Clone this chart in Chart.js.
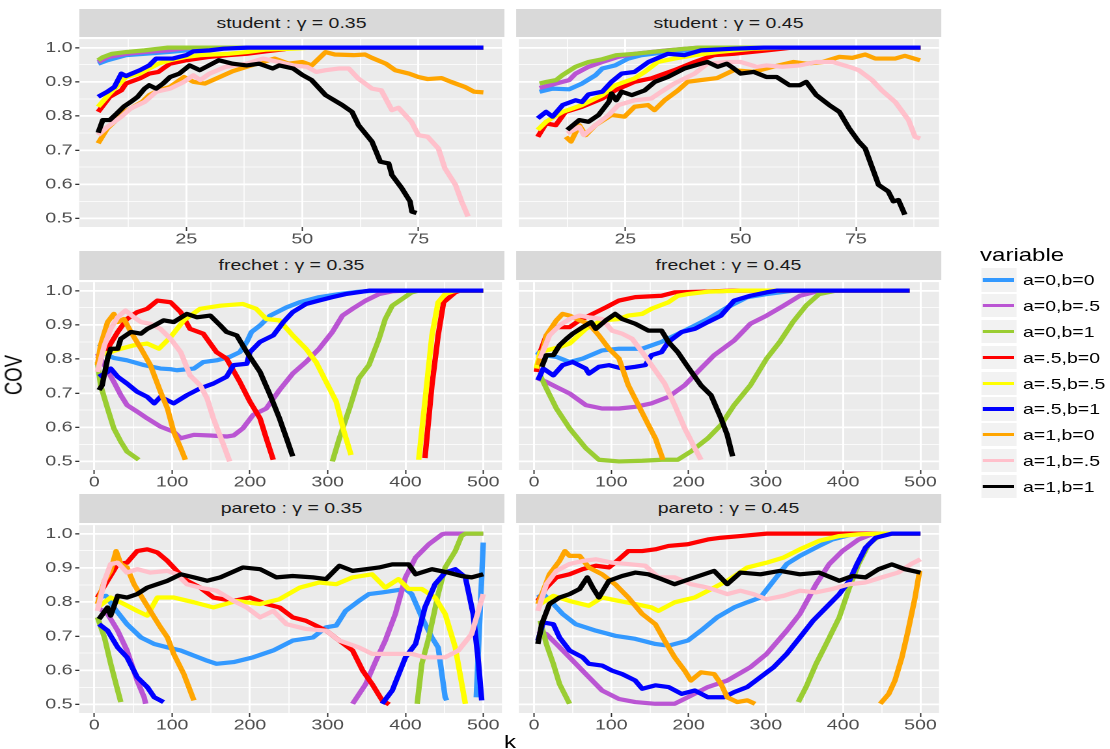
<!doctype html>
<html>
<head>
<meta charset="utf-8" />
<title>COV by k</title>
<script src="https://cdn.jsdelivr.net/npm/chart.js@4.4.0/dist/chart.umd.min.js"></script>
<style>
body { margin:0; background:#fff; overflow:hidden; font-family:"Liberation Sans", Arial, sans-serif; }
#wrap { position:absolute; left:0; top:0; height:749px; transform-origin:0 0; }
.abs { position:absolute; }
.strip { background:#D9D9D9; color:#1A1A1A; font-size:15px; text-align:center; white-space:nowrap; }
.title { color:#000; font-size:18.5px; line-height:18.5px; white-space:nowrap; }
.key { background:#F2F2F2; }
.keyline { position:absolute; height:3.4px; }
.lab { color:#000; font-size:15px; white-space:nowrap; }
</style>
</head>

<body>
<div id="wrap"></div>
<script>
// horizontal stretch of the reference picture
var S = 1.3;

var seriesNames = ['a=0,b=0', 'a=0,b=.5', 'a=0,b=1', 'a=.5,b=0', 'a=.5,b=.5', 'a=.5,b=1', 'a=1,b=0', 'a=1,b=.5', 'a=1,b=1'];
var seriesColors = ['#3399FF', '#BA55D3', '#9ACD32', '#FF0000', '#FFFF00', '#0000FF', '#FFA500', '#FFC0CB', '#000000'];
var panelTitles = ['student : \u03b3 = 0.35', 'student : \u03b3 = 0.45', 'frechet : \u03b3 = 0.35', 'frechet : \u03b3 = 0.45', 'pareto : \u03b3 = 0.35', 'pareto : \u03b3 = 0.45'];

var studentTicks = [25, 50, 75];
var studentLabels = ['25', '50', '75'];
var studentMinor = [12.5, 37.5, 62.5, 87.5];
var studentRange = [1.9, 93];
var heavyTicks = [0, 100, 200, 300, 400, 500];
var heavyLabels = ['0', '100', '200', '300', '400', '500'];
var heavyMinor = [50, 150, 250, 350, 450];
var heavyRange = [-19.6, 524];
var covTicks = [0.5, 0.6, 0.7, 0.8, 0.9, 1.0];
var covLabels = ['0.5', '0.6', '0.7', '0.8', '0.9', '1.0'];
var covMinor = [0.55, 0.65, 0.75, 0.85, 0.95];
var covRange = [0.475, 1.025];

// [k, COV] per series, in seriesNames order; null = gap
var student035 = [
  [[6,0.953],[8,0.963],[12,0.978],[16,0.982],[21,0.987],[25,0.992],[29,0.997],[32,1],[89,1]],
  [[6,0.958],[8,0.972],[12,0.982],[16,0.987],[21,0.992],[24,0.997],[26,1],[89,1]],
  [[6,0.963],[7,0.972],[9,0.982],[12,0.987],[16,0.992],[19,0.997],[21,1],[89,1]],
  [[6,0.812],[8.5,0.856],[11,0.875],[12,0.895],[15,0.91],[17,0.924],[19,0.929],[20,0.939],[21.5,0.953],[25,0.963],[30,0.973],[34,0.978],[38,0.982],[42,0.989],[46,0.995],[48,1],[89,1]],
  [[6,0.827],[8.5,0.866],[11,0.9],[12,0.914],[15,0.924],[17,0.939],[19,0.953],[21.5,0.963],[25,0.973],[28,0.978],[34,0.982],[38,0.987],[42,0.994],[48,0.997],[52,1],[89,1]],
  [[6,0.856],[8,0.871],[9.5,0.885],[11,0.924],[12,0.917],[15,0.934],[17,0.948],[18.5,0.968],[22,0.968],[25,0.978],[26.5,0.989],[30,0.992],[33,0.997],[38,1],[89,1]],
  [[6,0.72],[8,0.764],[9.5,0.783],[11,0.807],[13,0.822],[15.5,0.841],[17,0.861],[19,0.875],[21.5,0.885],[24.5,0.914],[26.5,0.9],[29,0.895],[31.5,0.91],[35,0.931],[38,0.944],[41.5,0.958],[44,0.968],[47,0.953],[50,0.958],[52,0.948],[55,0.987],[57,0.98],[61,0.978],[63.5,0.98],[65,0.97],[68,0.953],[70,0.934],[73,0.924],[75,0.914],[77,0.908],[80,0.911],[82,0.9],[85,0.885],[87,0.871],[89,0.869]],
  [[6,0.744],[8,0.768],[11,0.798],[13,0.822],[16,0.841],[18.5,0.871],[21.5,0.88],[24.5,0.9],[26.5,0.919],[28,0.905],[30,0.924],[33.5,0.944],[38,0.953],[41.5,0.968],[45,0.958],[48,0.948],[51,0.944],[53,0.929],[55,0.934],[58,0.939],[60,0.939],[62,0.91],[65,0.88],[67,0.875],[69.3,0.817],[70.7,0.824],[73.5,0.783],[75,0.744],[77,0.739],[79.3,0.705],[80.7,0.647],[83,0.598],[84.3,0.55],[85.7,0.506]],
  [[6,0.751],[7,0.788],[8.5,0.788],[10,0.807],[11.5,0.827],[13,0.841],[14.5,0.856],[16,0.88],[17,0.89],[18.5,0.88],[20,0.895],[21.5,0.914],[23.5,0.924],[25.7,0.948],[27.9,0.934],[32,0.963],[35,0.953],[38,0.948],[40.7,0.953],[43.6,0.939],[45,0.948],[48,0.939],[50,0.92],[52,0.905],[55,0.861],[58.6,0.832],[60.7,0.812],[62.1,0.773],[65,0.725],[66.8,0.666],[68.6,0.661],[69.3,0.627],[71.4,0.589],[73.2,0.55],[73.6,0.52],[74.6,0.516]]
];

var student045 = [
  [[6.4,0.871],[9.2,0.88],[12.8,0.878],[15.6,0.895],[18.5,0.919],[20,0.939],[22.8,0.948],[25.6,0.968],[28.5,0.978],[34,0.987],[38.5,0.992],[42.8,0.997],[48.5,1],[89,1]],
  [[6.4,0.882],[10,0.895],[12.8,0.905],[14.2,0.924],[17,0.944],[20,0.958],[23.5,0.973],[27,0.982],[34,0.992],[41,1],[89,1]],
  [[6.4,0.895],[8,0.9],[10,0.905],[11.4,0.92],[14.2,0.944],[17,0.958],[20,0.966],[23,0.978],[27,0.982],[30.6,0.987],[38,0.997],[41,1],[89,1]],
  [[6,0.739],[7.8,0.778],[9.9,0.773],[12,0.812],[15.6,0.827],[20,0.851],[22.8,0.875],[27,0.9],[30.6,0.91],[35.6,0.934],[40,0.958],[44.2,0.978],[48.5,0.982],[55.6,0.992],[61,1],[89,1]],
  [[6,0.759],[7.8,0.783],[11.4,0.812],[15.6,0.832],[20,0.861],[22.8,0.89],[27,0.91],[29.2,0.929],[32,0.958],[35.6,0.968],[40,0.978],[45,0.987],[52.8,0.997],[59,1],[89,1]],
  [[6,0.793],[7.8,0.812],[9.2,0.798],[11.4,0.832],[14.2,0.846],[15.6,0.841],[17,0.863],[20,0.871],[22,0.9],[24.2,0.924],[27,0.929],[30,0.958],[34.2,0.982],[37.8,0.978],[41.4,0.992],[48.5,0.997],[55,1],[89,1]],
  [[12.1,0.739],[13.2,0.725],[15,0.773],[16.4,0.744],[18.5,0.773],[22,0.803],[24.8,0.798],[27,0.827],[29.9,0.832],[31.3,0.817],[33.5,0.846],[36.4,0.875],[38.5,0.9],[41.4,0.905],[44.9,0.911],[48.5,0.934],[52.8,0.929],[57,0.944],[61.4,0.958],[64.2,0.953],[67.8,0.958],[71.4,0.973],[74.2,0.97],[77,0.98],[79.2,0.968],[83.5,0.968],[85.6,0.976],[88.9,0.963]],
  [[12.4,0.749],[15,0.768],[16,0.744],[18.5,0.773],[21.4,0.803],[23.5,0.832],[27,0.846],[30.6,0.851],[32.8,0.871],[35.6,0.895],[40,0.924],[42.8,0.953],[47,0.958],[50,0.958],[53.5,0.944],[55.6,0.948],[59,0.944],[62.8,0.948],[66.4,0.958],[70,0.958],[73.5,0.944],[75.6,0.934],[78.5,0.905],[80.6,0.875],[83.5,0.841],[86.4,0.788],[87.8,0.739],[88.9,0.734]],
  [[12.4,0.759],[15,0.788],[17,0.783],[19.2,0.803],[21.4,0.841],[22,0.866],[23,0.846],[24.2,0.871],[26.4,0.861],[29.2,0.875],[31.4,0.9],[34.2,0.914],[37.8,0.939],[41.4,0.953],[42.8,0.958],[45,0.944],[47,0.953],[48.5,0.939],[50,0.924],[52.8,0.929],[55.6,0.914],[57.8,0.914],[60.6,0.89],[62.8,0.89],[64.2,0.9],[66.4,0.861],[69.2,0.832],[71.4,0.812],[73.5,0.764],[75.6,0.725],[77,0.705],[79.9,0.598],[82,0.579],[83.1,0.55],[84.2,0.554],[85.6,0.511]]
];

var frechet035 = [
  [[6,0.835],[11,0.845],[17,0.811],[25,0.803],[42,0.796],[64,0.782],[85,0.772],[98,0.77],[106,0.767],[128,0.772],[140,0.791],[157,0.796],[174,0.806],[187,0.82],[196,0.85],[202,0.879],[213,0.898],[226,0.927],[247,0.951],[264,0.966],[289,0.981],[315,0.99],[340,0.997],[362,1],[500,1]],
  [[4,0.816],[13,0.782],[25,0.733],[34,0.694],[42,0.665],[55,0.646],[68,0.626],[85,0.602],[102,0.587],[111,0.568],[128,0.578],[149,0.576],[170,0.573],[179,0.576],[191,0.597],[204,0.636],[221,0.655],[238,0.709],[255,0.757],[272,0.791],[289,0.83],[306,0.879],[319,0.927],[332,0.947],[349,0.971],[366,0.99],[383,0.998],[400,1],[500,1]],
  [[4,0.791],[8,0.723],[17,0.655],[25,0.597],[34,0.558],[42,0.529],[57,0.505],[180,null],[306,0.5],[315,0.568],[328,0.655],[340,0.743],[353,0.782],[366,0.859],[374,0.917],[383,0.956],[396,0.976],[408,0.995],[417,1],[500,1]],
  [[4,0.801],[17,0.83],[30,0.879],[42,0.917],[55,0.937],[68,0.947],[81,0.971],[98,0.966],[111,0.937],[123,0.888],[140,0.874],[157,0.82],[170,0.801],[187,0.733],[200,0.675],[213,0.626],[221,0.568],[230,0.505],[330,null],[425,0.51],[434,0.723],[442,0.869],[449,0.966],[464,0.995],[470,1],[500,1]],
  [[4,0.811],[21,0.82],[34,0.83],[51,0.84],[68,0.845],[83,0.83],[98,0.864],[115,0.913],[136,0.947],[162,0.956],[191,0.961],[208,0.947],[221,0.917],[238,0.913],[255,0.869],[272,0.83],[285,0.791],[298,0.733],[311,0.675],[321,0.587],[330,0.519],[370,null],[417,0.505],[425,0.675],[434,0.869],[442,0.966],[451,0.99],[460,0.997],[466,1],[500,1]],
  [[6,0.748],[17,0.762],[21,0.772],[30,0.748],[42,0.728],[55,0.704],[68,0.689],[77,0.67],[85,0.689],[102,0.67],[119,0.694],[136,0.714],[153,0.728],[170,0.748],[179,0.782],[196,0.786],[200,0.82],[213,0.85],[230,0.869],[243,0.908],[255,0.937],[272,0.961],[289,0.971],[306,0.981],[323,0.99],[353,1],[500,1]],
  [[4,0.782],[8,0.84],[17,0.908],[25,0.932],[30,0.908],[38,0.917],[47,0.879],[60,0.83],[72,0.782],[85,0.704],[94,0.655],[102,0.587],[111,0.539],[117,0.505]],
  [[4,0.762],[13,0.84],[21,0.888],[30,0.922],[40,0.942],[51,0.922],[60,0.908],[72,0.903],[85,0.888],[98,0.859],[111,0.82],[123,0.752],[136,0.723],[145,0.684],[153,0.626],[166,0.549],[174,0.5]],
  [[6,0.709],[10,0.723],[17,0.801],[21,0.83],[30,0.83],[34,0.859],[47,0.879],[60,0.874],[68,0.888],[77,0.898],[89,0.913],[102,0.908],[119,0.932],[132,0.922],[149,0.927],[162,0.898],[170,0.879],[183,0.869],[196,0.82],[213,0.762],[226,0.694],[238,0.626],[247,0.568],[255,0.515]]
];

var frechet045 = [
  [[3,0.82],[12,0.811],[29,0.806],[46,0.791],[63,0.801],[88,0.825],[110,0.83],[140,0.83],[165,0.85],[195,0.883],[225,0.917],[250,0.951],[276,0.981],[301,0.99],[335,1],[486,1]],
  [[5,0.743],[16,0.733],[29,0.718],[46,0.699],[67,0.665],[88,0.655],[110,0.655],[131,0.66],[152,0.67],[174,0.689],[195,0.723],[216,0.772],[233,0.811],[259,0.854],[280,0.903],[301,0.927],[323,0.956],[344,0.985],[365,0.997],[386,1],[486,1]],
  [[8,0.752],[16,0.714],[29,0.655],[46,0.597],[67,0.539],[84,0.505],[110,0.5],[140,0.502],[165,0.505],[186,0.505],[203,0.529],[225,0.568],[242,0.607],[259,0.665],[280,0.723],[301,0.801],[318,0.85],[335,0.908],[352,0.956],[369,0.99],[391,1],[486,1]],
  [[3,0.762],[8,0.82],[16,0.869],[29,0.893],[46,0.893],[59,0.913],[76,0.932],[93,0.951],[110,0.971],[131,0.981],[165,0.985],[182,0.995],[216,0.997],[259,1],[486,1]],
  [[3,0.772],[8,0.82],[33,0.835],[46,0.845],[67,0.888],[88,0.913],[110,0.917],[122,0.927],[140,0.932],[152,0.947],[174,0.966],[186,0.985],[199,0.99],[225,0.997],[267,1],[486,1]],
  [[5,0.738],[12,0.772],[25,0.752],[37,0.782],[50,0.791],[67,0.772],[71,0.757],[84,0.777],[97,0.782],[114,0.772],[131,0.777],[144,0.782],[152,0.811],[165,0.82],[174,0.85],[191,0.879],[208,0.888],[225,0.908],[242,0.927],[259,0.971],[280,0.985],[301,0.995],[314,1],[486,1]],
  [[5,0.782],[12,0.83],[16,0.869],[29,0.913],[37,0.932],[46,0.927],[59,0.913],[71,0.903],[84,0.869],[97,0.83],[110,0.801],[122,0.723],[135,0.665],[148,0.607],[157,0.568],[167,0.505]],
  [[8,0.801],[20,0.869],[33,0.898],[46,0.917],[59,0.927],[71,0.922],[88,0.917],[101,0.883],[114,0.874],[127,0.859],[140,0.82],[152,0.782],[169,0.728],[182,0.665],[195,0.597],[208,0.539],[216,0.505]],
  [[10,0.777],[16,0.811],[25,0.811],[33,0.84],[42,0.859],[50,0.874],[63,0.893],[74,0.908],[80,0.888],[93,0.913],[105,0.932],[114,0.917],[131,0.903],[148,0.883],[165,0.883],[174,0.85],[186,0.82],[199,0.777],[216,0.723],[229,0.694],[242,0.626],[250,0.578],[257,0.515]]
];

var pareto035 = [
  [[4,0.813],[15,0.818],[25,0.784],[42,0.735],[60,0.696],[77,0.677],[94,0.667],[111,0.658],[128,0.643],[145,0.628],[157,0.619],[179,0.624],[204,0.638],[230,0.658],[255,0.687],[281,0.696],[298,0.726],[311,0.731],[323,0.774],[340,0.803],[353,0.823],[370,0.828],[400,0.838],[408,0.823],[421,0.755],[434,0.696],[442,0.667],[451,0.521],[453,0.512],[470,null],[491,0.521],[500,0.974]],
  [[4,0.784],[17,0.765],[30,0.716],[42,0.658],[55,0.57],[64,0.521],[66,0.502],[200,null],[332,0.502],[349,0.56],[362,0.628],[374,0.687],[387,0.765],[400,0.872],[413,0.93],[430,0.969],[447,0.998],[451,1],[500,1]],
  [[4,0.755],[13,0.696],[21,0.619],[30,0.541],[34,0.507],[200,null],[415,0.502],[421,0.619],[430,0.696],[442,0.823],[451,0.901],[464,0.949],[472,0.993],[477,1],[500,1]],
  [[4,0.813],[17,0.862],[30,0.911],[42,0.915],[55,0.949],[68,0.954],[81,0.945],[94,0.92],[106,0.891],[119,0.862],[136,0.842],[153,0.813],[179,0.803],[200,0.813],[221,0.794],[238,0.784],[255,0.755],[272,0.745],[298,0.716],[315,0.687],[332,0.658],[345,0.599],[357,0.56],[370,0.512],[379,0.5]],
  [[4,0.784],[21,0.813],[38,0.794],[55,0.774],[68,0.76],[81,0.813],[102,0.813],[128,0.799],[153,0.784],[183,0.803],[213,0.794],[238,0.808],[264,0.842],[289,0.857],[311,0.852],[332,0.872],[357,0.881],[374,0.842],[391,0.867],[404,0.838],[421,0.838],[438,0.813],[451,0.765],[464,0.667],[477,0.502]],
  [[6,0.735],[17,0.716],[30,0.667],[42,0.638],[55,0.58],[68,0.551],[77,0.521],[89,0.507],[200,null],[370,0.502],[383,0.541],[400,0.638],[413,0.677],[425,0.784],[438,0.852],[451,0.886],[464,0.896],[477,0.872],[487,0.765],[494,0.619],[498,0.512]],
  [[4,0.794],[13,0.862],[21,0.891],[28,0.949],[34,0.911],[42,0.901],[51,0.852],[64,0.803],[77,0.755],[85,0.726],[94,0.696],[102,0.648],[115,0.589],[128,0.512]],
  [[4,0.774],[13,0.862],[21,0.911],[30,0.915],[42,0.886],[55,0.896],[72,0.886],[94,0.891],[106,0.881],[119,0.852],[136,0.842],[157,0.833],[179,0.803],[196,0.784],[213,0.755],[230,0.774],[247,0.735],[272,0.721],[298,0.716],[315,0.687],[340,0.667],[357,0.648],[383,0.648],[408,0.648],[425,0.638],[451,0.638],[468,0.658],[485,0.706],[500,0.823]],
  [[6,0.75],[17,0.784],[21,0.76],[30,0.818],[42,0.813],[55,0.823],[68,0.842],[81,0.852],[94,0.862],[111,0.881],[128,0.872],[145,0.862],[162,0.872],[191,0.901],[213,0.896],[234,0.872],[255,0.876],[281,0.872],[298,0.867],[315,0.906],[332,0.891],[349,0.896],[366,0.901],[383,0.91],[404,0.91],[413,0.881],[434,0.896],[455,0.886],[472,0.876],[485,0.872],[500,0.881]]
];

var pareto045 = [
  [[5,0.813],[12,0.823],[25,0.794],[37,0.765],[54,0.735],[80,0.716],[105,0.701],[131,0.692],[157,0.677],[174,0.672],[199,0.687],[216,0.716],[237,0.755],[259,0.784],[276,0.799],[293,0.813],[310,0.862],[327,0.911],[344,0.935],[369,0.964],[386,0.983],[412,0.998],[420,1],[500,1]],
  [[5,0.716],[16,0.706],[29,0.677],[46,0.638],[67,0.589],[88,0.541],[110,0.516],[131,0.507],[157,0.502],[182,0.502],[199,0.521],[225,0.551],[250,0.57],[280,0.609],[301,0.648],[327,0.716],[344,0.765],[365,0.852],[382,0.911],[399,0.949],[420,0.983],[437,0.998],[446,1],[500,1]],
  [[8,0.745],[16,0.677],[25,0.619],[33,0.56],[46,0.502],[200,null],[342,0.507],[352,0.551],[365,0.619],[378,0.677],[395,0.755],[408,0.842],[420,0.911],[433,0.969],[450,1],[500,1]],
  [[5,0.803],[16,0.842],[29,0.872],[46,0.881],[63,0.896],[80,0.906],[97,0.901],[110,0.925],[122,0.949],[140,0.949],[157,0.954],[174,0.964],[199,0.969],[225,0.983],[242,0.988],[267,0.993],[301,1],[500,1]],
  [[8,0.794],[25,0.818],[46,0.803],[71,0.789],[88,0.813],[110,0.803],[131,0.794],[152,0.784],[161,0.774],[182,0.799],[208,0.813],[233,0.842],[250,0.862],[276,0.901],[301,0.915],[323,0.93],[344,0.954],[369,0.979],[395,0.993],[420,0.998],[450,1],[500,1]],
  [[5,0.687],[12,0.74],[25,0.735],[33,0.696],[46,0.658],[63,0.638],[71,0.619],[88,0.614],[101,0.599],[114,0.589],[131,0.57],[140,0.546],[157,0.556],[174,0.551],[191,0.531],[208,0.541],[225,0.521],[246,0.521],[259,0.536],[276,0.551],[293,0.58],[310,0.609],[327,0.648],[344,0.696],[361,0.745],[378,0.784],[395,0.823],[408,0.862],[418,0.911],[429,0.959],[442,0.988],[463,1],[500,1]],
  [[5,0.794],[12,0.833],[20,0.881],[33,0.92],[40,0.949],[46,0.935],[59,0.935],[71,0.901],[88,0.881],[105,0.852],[122,0.813],[140,0.765],[157,0.735],[169,0.687],[182,0.638],[195,0.599],[203,0.57],[216,0.594],[233,0.589],[242,0.56],[250,0.521],[263,0.507],[276,0.512],[286,0.502],[370,null],[448,0.502],[459,0.531],[467,0.57],[476,0.638],[484,0.716],[493,0.813],[499,0.891]],
  [[5,0.774],[16,0.852],[29,0.891],[46,0.911],[63,0.92],[80,0.925],[101,0.915],[122,0.911],[144,0.906],[161,0.872],[182,0.872],[203,0.852],[225,0.842],[250,0.823],[267,0.833],[284,0.823],[301,0.808],[323,0.818],[344,0.833],[365,0.828],[386,0.838],[408,0.852],[429,0.857],[450,0.872],[471,0.886],[488,0.911],[500,0.925]],
  [[5,0.677],[10,0.735],[20,0.794],[33,0.813],[46,0.823],[59,0.838],[69,0.872],[76,0.842],[84,0.813],[97,0.862],[114,0.876],[131,0.886],[148,0.881],[165,0.867],[182,0.852],[208,0.872],[233,0.891],[250,0.852],[267,0.886],[293,0.881],[318,0.891],[344,0.881],[369,0.886],[395,0.862],[412,0.876],[429,0.872],[446,0.896],[463,0.91],[480,0.896],[500,0.886]]
];

var panelData = [student035, student045, frechet035, frechet045, pareto035, pareto045];

// layout, in pixels of the reference picture
var colLeft = [79, 516], panelW = 425;
var rowTop = [37.3, 280, 523], panelH = 190, stripH = 28.7, xAxisH = 26;

var wrap = document.getElementById('wrap');
wrap.style.width = (1110 / S) + 'px';
wrap.style.transform = 'scaleX(' + S + ')';

function place(el, x, y, w, h) {
  el.style.left = (x / S) + 'px';
  el.style.top = y + 'px';
  if (w != null) el.style.width = (w / S) + 'px';
  if (h != null) el.style.height = h + 'px';
  wrap.appendChild(el);
  return el;
}

function tickList(major, labels, minor) {
  var list = major.map(function (v, i) { return { value: v, text: labels[i], minor: false }; })
    .concat(minor.map(function (v) { return { value: v, text: '', minor: true }; }));
  list.sort(function (a, b) { return a.value - b.value; });
  return list;
}

var panelBg = {
  id: 'panelBg',
  beforeDraw: function (chart) {
    var a = chart.chartArea, ctx = chart.ctx;
    ctx.save();
    ctx.fillStyle = '#EBEBEB';
    ctx.fillRect(a.left, a.top, a.right - a.left, a.bottom - a.top);
    ctx.restore();
  }
};

var tickFont = { family: '"Liberation Sans", Arial, sans-serif', size: 15, lineHeight: 1 };

function makeAxis(list, range, horizontal, showLabels, fixedSize) {
  return {
    type: 'linear',
    min: range[0],
    max: range[1],
    afterBuildTicks: function (axis) {
      axis.ticks = list.map(function (t) { return { value: t.value, minor: t.minor }; });
    },
    afterFit: function (axis) {
      if (horizontal) axis.height = fixedSize; else axis.width = fixedSize;
      axis.paddingTop = 0; axis.paddingBottom = 0;
      axis.paddingLeft = 0; axis.paddingRight = 0;
    },
    border: { display: false },
    grid: {
      color: '#FFFFFF',
      lineWidth: function (c) { return c.tick && c.tick.minor ? (horizontal ? 0.75 : 0.85) : (horizontal ? 1.5 : 1.7); },
      drawTicks: showLabels,
      tickLength: horizontal ? 4 : 3,
      tickWidth: horizontal ? 1.0 : 1.3,
      tickColor: function (c) { return c.tick && c.tick.minor ? 'rgba(0,0,0,0)' : '#333333'; }
    },
    ticks: {
      display: showLabels,
      autoSkip: false,
      maxRotation: 0,
      padding: horizontal ? 1 : 2,
      color: '#4D4D4D',
      font: tickFont,
      callback: function (v, i) { return list[i] ? list[i].text : ''; }
    }
  };
}

var xStudent = tickList(studentTicks, studentLabels, studentMinor);
var xHeavy = tickList(heavyTicks, heavyLabels, heavyMinor);
var yCov = tickList(covTicks, covLabels, covMinor);

panelData.forEach(function (series, p) {
  var row = Math.floor(p / 2), col = p % 2;
  var strip = document.createElement('div');
  strip.className = 'abs strip';
  strip.textContent = panelTitles[p];
  strip.style.lineHeight = stripH + 'px';
  place(strip, colLeft[col], rowTop[row] - stripH, panelW, stripH);

  var yW = col === 0 ? colLeft[0] : 0;
  var host = document.createElement('div');
  host.className = 'abs';
  place(host, colLeft[col] - yW, rowTop[row], panelW + yW, panelH + xAxisH);
  var cv = document.createElement('canvas');
  host.appendChild(cv);

  var student = row === 0;
  new Chart(cv, {
    type: 'line',
    data: {
      datasets: series.map(function (pts, i) {
        return {
          label: seriesNames[i],
          data: pts.map(function (d) { return { x: d[0], y: d[1] }; }),
          borderColor: seriesColors[i],
          backgroundColor: seriesColors[i],
          borderWidth: 4.2,
          borderJoinStyle: 'round',
          pointRadius: 0,
          tension: 0,
          fill: false,
          spanGaps: false,
          order: seriesNames.length - 1 - i
        };
      })
    },
    options: {
      responsive: true,
      maintainAspectRatio: false,
      animation: false,
      devicePixelRatio: 2,
      layout: { padding: 0 },
      plugins: { legend: { display: false }, tooltip: { enabled: false } },
      scales: {
        x: makeAxis(student ? xStudent : xHeavy, student ? studentRange : heavyRange, true, true, xAxisH),
        y: makeAxis(yCov, covRange, false, col === 0, yW / S)
      }
    },
    plugins: [panelBg]
  });
});

// axis titles
var cov = document.createElement('div');
cov.className = 'abs title';
cov.textContent = 'COV';
cov.style.transform = 'translate(-50%, -50%) rotate(-90deg)';
place(cov, 14, 375);

var kLab = document.createElement('div');
kLab.className = 'abs title';
kLab.textContent = 'k';
kLab.style.transform = 'translateX(-50%)';
place(kLab, 510, 733);

// legend
var lt = document.createElement('div');
lt.className = 'abs title';
lt.textContent = 'variable';
place(lt, 980, 246);

seriesNames.forEach(function (name, i) {
  var top = 268.3 + 25.8 * i;
  var key = document.createElement('div');
  key.className = 'abs key';
  place(key, 981, top, 36, 23.3);
  var ln = document.createElement('div');
  ln.className = 'keyline';
  ln.style.background = seriesColors[i];
  ln.style.left = (2 / S) + 'px';
  ln.style.width = (31 / S) + 'px';
  ln.style.top = '10px';
  key.appendChild(ln);
  var lab = document.createElement('div');
  lab.className = 'abs lab';
  lab.textContent = name;
  lab.style.lineHeight = '23.3px';
  place(lab, 1023, top, null, 23.3);
});
</script>
</body>
</html>
